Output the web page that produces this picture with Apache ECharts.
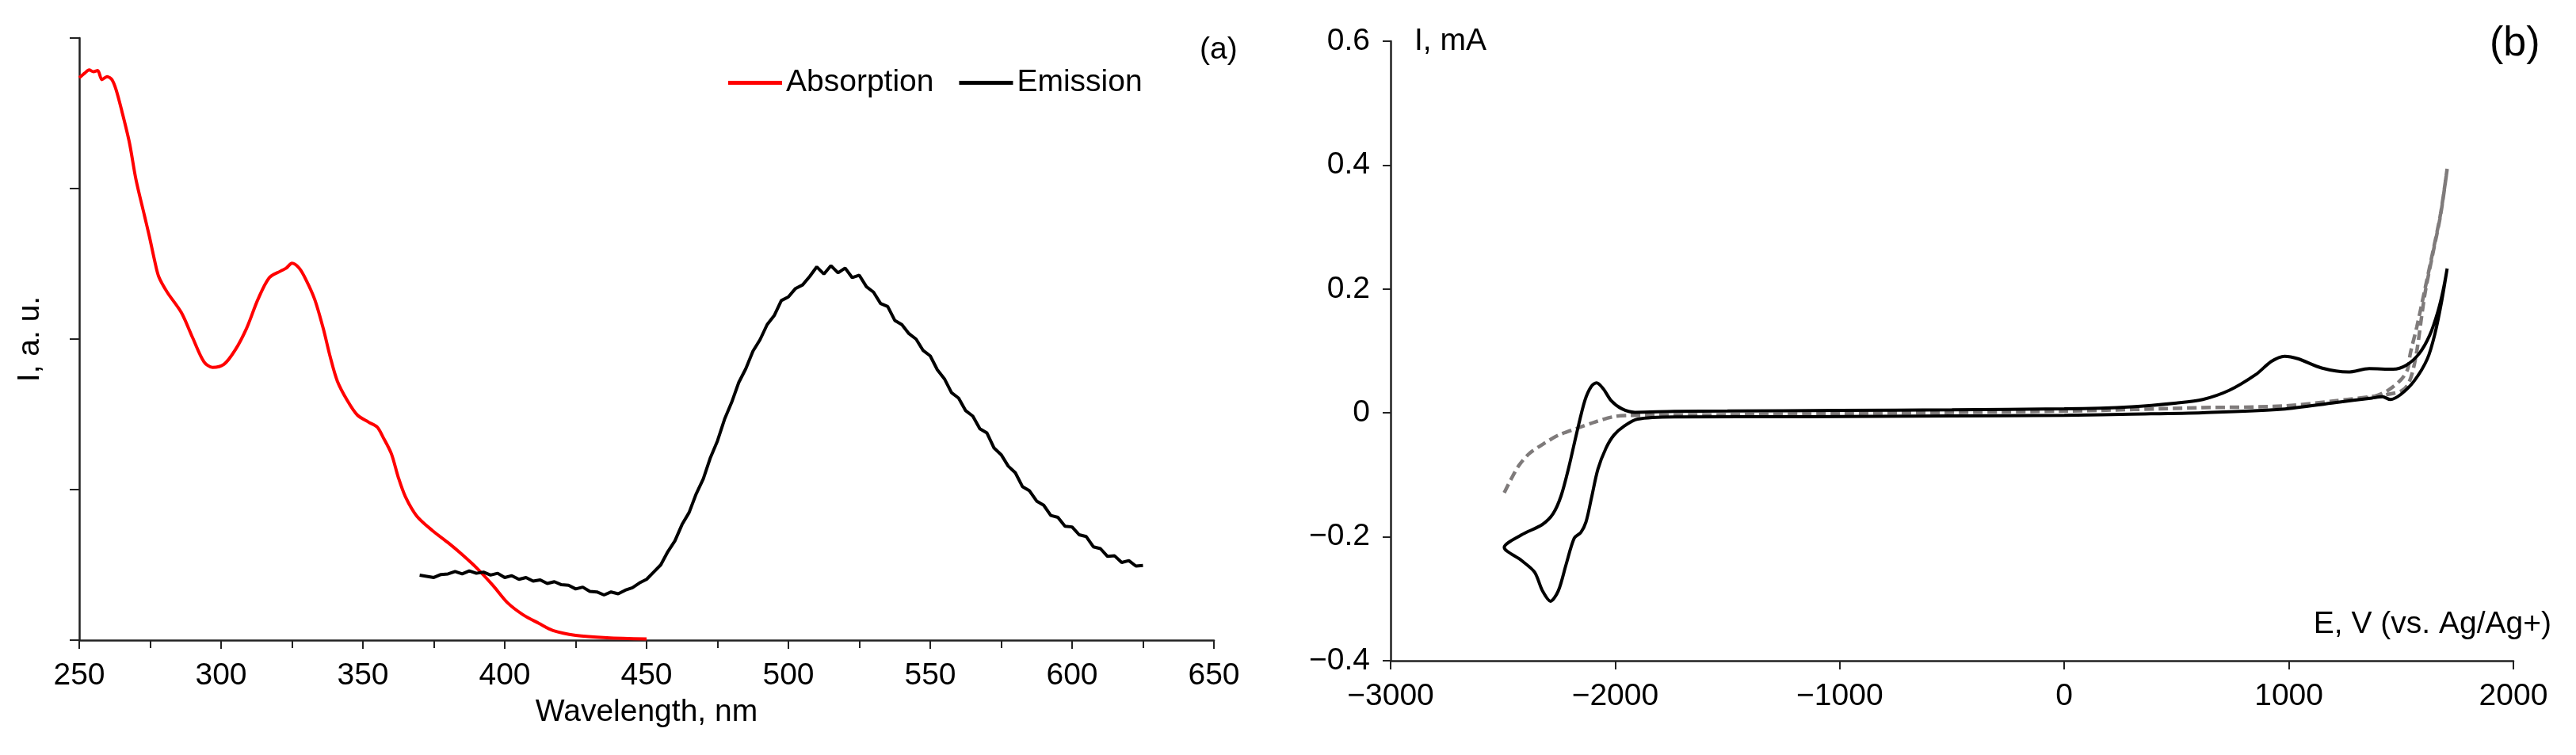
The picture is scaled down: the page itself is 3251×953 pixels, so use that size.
<!DOCTYPE html>
<html>
<head>
    <meta charset="utf-8">
    <title>Absorption / Emission and CV</title>
    <script src="https://cdn.jsdelivr.net/npm/echarts@6/dist/echarts.min.js"></script>
    <style type="text/css">
        *{margin: 0;padding: 0;}
        body{background: #fff;overflow: hidden;}
    </style>
</head>
<body>
<div id="main" style="width: 3251px;height: 953px;"></div>
<script type="text/javascript">
    // (a) spectra: [wavelength nm, intensity a.u.]
    var absorption = [
        [250, .934], [252, .942], [253.5, .947], [255, .944], [256.5, .946], [258, .931], [259.8, .936],
        [261.5, .931], [263, .914], [265, .879], [267.7, .826], [270, .765], [273, .705], [274.7, .671],
        [276.5, .632], [278, .604], [281, .578], [286, .544], [290, .502], [294, .462], [297, .453],
        [301, .458], [305, .482], [309, .518], [313, .566], [317, .602], [321, .613], [323, .618],
        [325, .626], [327.5, .618], [330, .598], [333, .566], [336, .518], [338.5, .470], [341, .430],
        [344.5, .398], [348, .374], [352, .362], [355, .354], [357, .338], [360, .310], [362.5, .270],
        [365, .238], [369, .206], [374.5, .182], [380, .162], [385, .142], [390.5, .118], [396, .090],
        [401, .062], [406.5, .042], [412, .028], [417, .016], [425, .008], [436, .004], [450, .002]
    ];
    var emission = [
        [370, .108], [372.5, .106], [375, .104], [377.5, .109], [380, .110], [382.5, .114], [385, .110],
        [387.5, .115], [390, .111], [392.5, .113], [395, .108], [397.5, .111], [400, .104], [402.5, .107],
        [405, .101], [407.5, .104], [410, .098], [412.5, .100], [415, .094], [417.5, .097], [420, .092],
        [422.5, .091], [425, .085], [427.5, .088], [430, .081], [432.5, .080], [435, .075], [437.5, .080],
        [440, .077], [442.5, .083], [445, .087], [447.5, .095], [450, .101], [452.5, .113], [455, .125],
        [457.5, .147], [460, .165], [462.5, .192], [465, .212], [467.5, .243], [470, .268], [472.5, .303],
        [475, .331], [477.5, .367], [480, .395], [482.5, .428], [485, .451], [487.5, .480], [490, .499],
        [492.5, .524], [495, .539], [497.5, .564], [500, .570], [502.5, .584], [505, .590], [507.5, .604],
        [510, .620], [512.5, .608], [515, .622], [517.5, .610], [520, .618], [522.5, .602], [525, .606],
        [527.5, .587], [530, .578], [532.5, .559], [535, .554], [537.5, .531], [540, .524], [542.5, .509],
        [545, .500], [547.5, .481], [550, .472], [552.5, .449], [555, .434], [557.5, .411], [560, .402],
        [562.5, .381], [565, .372], [567.5, .351], [570, .344], [572.5, .319], [575, .308], [577.5, .289],
        [580, .278], [582.5, .255], [585, .248], [587.5, .231], [590, .224], [592.5, .207], [595, .204],
        [597.5, .189], [600, .188], [602.5, .175], [605, .172], [607.5, .155], [610, .152], [612.5, .139],
        [615, .140], [617.5, .129], [620, .132], [622.5, .123], [625, .124]
    ];
    // (b) cyclic voltammograms: [E, I mA]
    var cvSample = [
        [0, -.004], [300, -.002], [617, .0004], [970, .006], [1205, .0166], [1370, .024], [1417, .026],
        [1452, .0217], [1499, .030], [1558, .0515], [1617, .0875], [1652, .130], [1681, .181], [1705, .233],
        [1687, .198], [1664, .164], [1628, .126], [1581, .096], [1523, .077], [1464, .0705], [1358, .0715],
        [1264, .066], [1146, .0725], [1040, .0875], [981, .0915], [923, .0833], [852, .0617], [734, .0363],
        [617, .0217], [500, .016], [300, .010], [0, .0065], [-500, .005], [-1000, .004], [-1500, .003],
        [-1737, .0025], [-1912, .001], [-1971, .0068], [-2018, .020], [-2053, .039], [-2083, .0485],
        [-2106, .043], [-2135, .020], [-2171, -.032], [-2206, -.087], [-2241, -.134], [-2277, -.163],
        [-2324, -.180], [-2418, -.197], [-2494, -.217], [-2418, -.238], [-2359, -.257], [-2324, -.287],
        [-2288, -.304], [-2253, -.287], [-2218, -.244], [-2182, -.202], [-2153, -.193], [-2130, -.176],
        [-2106, -.138], [-2077, -.091], [-2041, -.057], [-2006, -.036], [-1959, -.021], [-1900, -.010],
        [-1737, -.0065], [-1148, -.006], [-500, -.005], [0, -.004]
    ];
    var cvBlank = [
        [-2494, -.129], [-2465, -.108], [-2429, -.085], [-2382, -.0655], [-2324, -.051], [-2253, -.036],
        [-2171, -.025], [-2089, -.0145], [-2006, -.006], [-1935, -.004], [-1500, -.003], [-1000, -.001],
        [0, .003], [617, .0085], [970, .011], [1205, .0195], [1382, .027], [1441, .030], [1499, .035],
        [1529, .045], [1550, .065], [1570, .100], [1605, .190], [1640, .255], [1676, .320], [1705, .394],
        [1676, .322], [1640, .258], [1605, .198], [1570, .139], [1541, .096], [1529, .0705], [1499, .0535],
        [1441, .0363], [1382, .027], [1300, .022]
    ];
    var xTicksA = [250, 650, 50];
    var xTicksB = [-3000, 2000, 1000];
    var yTicksB = [-0.4, 0.6, 0.2];

    var FONT = "'Liberation Sans', Arial, sans-serif";
    var AX = '#222';
    function minus(s){ return String(s).replace('-', '\u2212'); }

    var myChart = echarts.init(document.getElementById('main'));
    var option = {
        animation: false,
        textStyle: {fontFamily: FONT, color: '#000'},
        legend: {
            left: 914,
            top: 80,
            icon: 'rect',
            itemWidth: 68,
            itemHeight: 5,
            itemGap: 32,
            textStyle: {fontSize: 39, color: '#000', fontFamily: FONT},
            data: ['Absorption', 'Emission']
        },
        graphic: [
            {type: 'text', left: 1514, top: 44, style: {text: '(a)', font: '39px ' + FONT, fill: '#000'}},
            {type: 'text', left: 3142, top: 30, style: {text: '(b)', font: '52px ' + FONT, fill: '#000'}}
        ],
        grid: [
            {left: 100, top: 48, width: 1432, height: 760},
            {left: 1755, top: 52, width: 1417, height: 782}
        ],
        xAxis: [
            {
                gridIndex: 0, type: 'value',
                min: xTicksA[0], max: xTicksA[1], interval: xTicksA[2],
                name: 'Wavelength, nm', nameLocation: 'middle', nameGap: 72,
                nameTextStyle: {fontSize: 39, color: '#000', fontFamily: FONT},
                axisLine: {onZero: false, lineStyle: {color: AX, width: 2.5}},
                axisTick: {length: 11, lineStyle: {color: AX, width: 2}},
                minorTick: {show: true, splitNumber: 2, length: 10, lineStyle: {color: AX, width: 2}},
                axisLabel: {fontSize: 39, color: '#000', margin: 26, fontFamily: FONT},
                splitLine: {show: false}
            },
            {
                gridIndex: 1, type: 'value',
                min: xTicksB[0], max: xTicksB[1], interval: xTicksB[2],
                name: 'E, V (vs. Ag/Ag+)', nameLocation: 'end', nameGap: 48,
                nameTextStyle: {fontSize: 39, color: '#000', fontFamily: FONT, align: 'right', verticalAlign: 'bottom', padding: [0, 0, 26, 0]},
                axisLine: {onZero: false, lineStyle: {color: AX, width: 2.5}},
                axisTick: {length: 11, lineStyle: {color: AX, width: 2}},
                axisLabel: {fontSize: 39, color: '#000', margin: 26, fontFamily: FONT, formatter: function(v){ return minus(v); }},
                splitLine: {show: false}
            }
        ],
        yAxis: [
            {
                gridIndex: 0, type: 'value',
                min: 0, max: 1, interval: 0.25,
                name: 'I, a. u.', nameLocation: 'middle', nameGap: 42,
                nameTextStyle: {fontSize: 39, color: '#000', fontFamily: FONT},
                axisLine: {show: true, onZero: false, lineStyle: {color: AX, width: 2.5}},
                axisTick: {show: true, length: 12, lineStyle: {color: AX, width: 2}},
                axisLabel: {show: false},
                splitLine: {show: false}
            },
            {
                gridIndex: 1, type: 'value',
                min: yTicksB[0], max: yTicksB[1], interval: yTicksB[2],
                name: 'I, mA', nameLocation: 'end', nameGap: 0,
                nameTextStyle: {fontSize: 39, color: '#000', fontFamily: FONT, align: 'left', verticalAlign: 'middle', padding: [0, 0, 0, 30]},
                axisLine: {show: true, onZero: false, lineStyle: {color: AX, width: 2.5}},
                axisTick: {show: true, length: 10, lineStyle: {color: AX, width: 2}},
                axisLabel: {fontSize: 39, color: '#000', margin: 26, fontFamily: FONT,
                    formatter: function(v){ return v === 0 ? '0' : minus(v.toFixed(1)); }},
                splitLine: {show: false}
            }
        ],
        series: [
            {
                name: 'Absorption', type: 'line', xAxisIndex: 0, yAxisIndex: 0,
                symbol: 'none', smooth: 0.3,
                lineStyle: {color: '#ff0000', width: 4},
                itemStyle: {color: '#ff0000'},
                data: absorption
            },
            {
                name: 'Emission', type: 'line', xAxisIndex: 0, yAxisIndex: 0,
                symbol: 'none',
                lineStyle: {color: '#000', width: 4},
                itemStyle: {color: '#000'},
                data: emission
            },
            {
                name: 'blank', type: 'line', xAxisIndex: 1, yAxisIndex: 1,
                symbol: 'none', smooth: 0.3,
                lineStyle: {color: '#7f7b7b', width: 4.5, type: [12, 6]},
                data: cvBlank
            },
            {
                name: 'sample', type: 'line', xAxisIndex: 1, yAxisIndex: 1,
                symbol: 'none', smooth: 0.3,
                lineStyle: {color: '#000', width: 4},
                data: cvSample
            }
        ]
    };
    myChart.setOption(option);
</script>
</body>
</html>
